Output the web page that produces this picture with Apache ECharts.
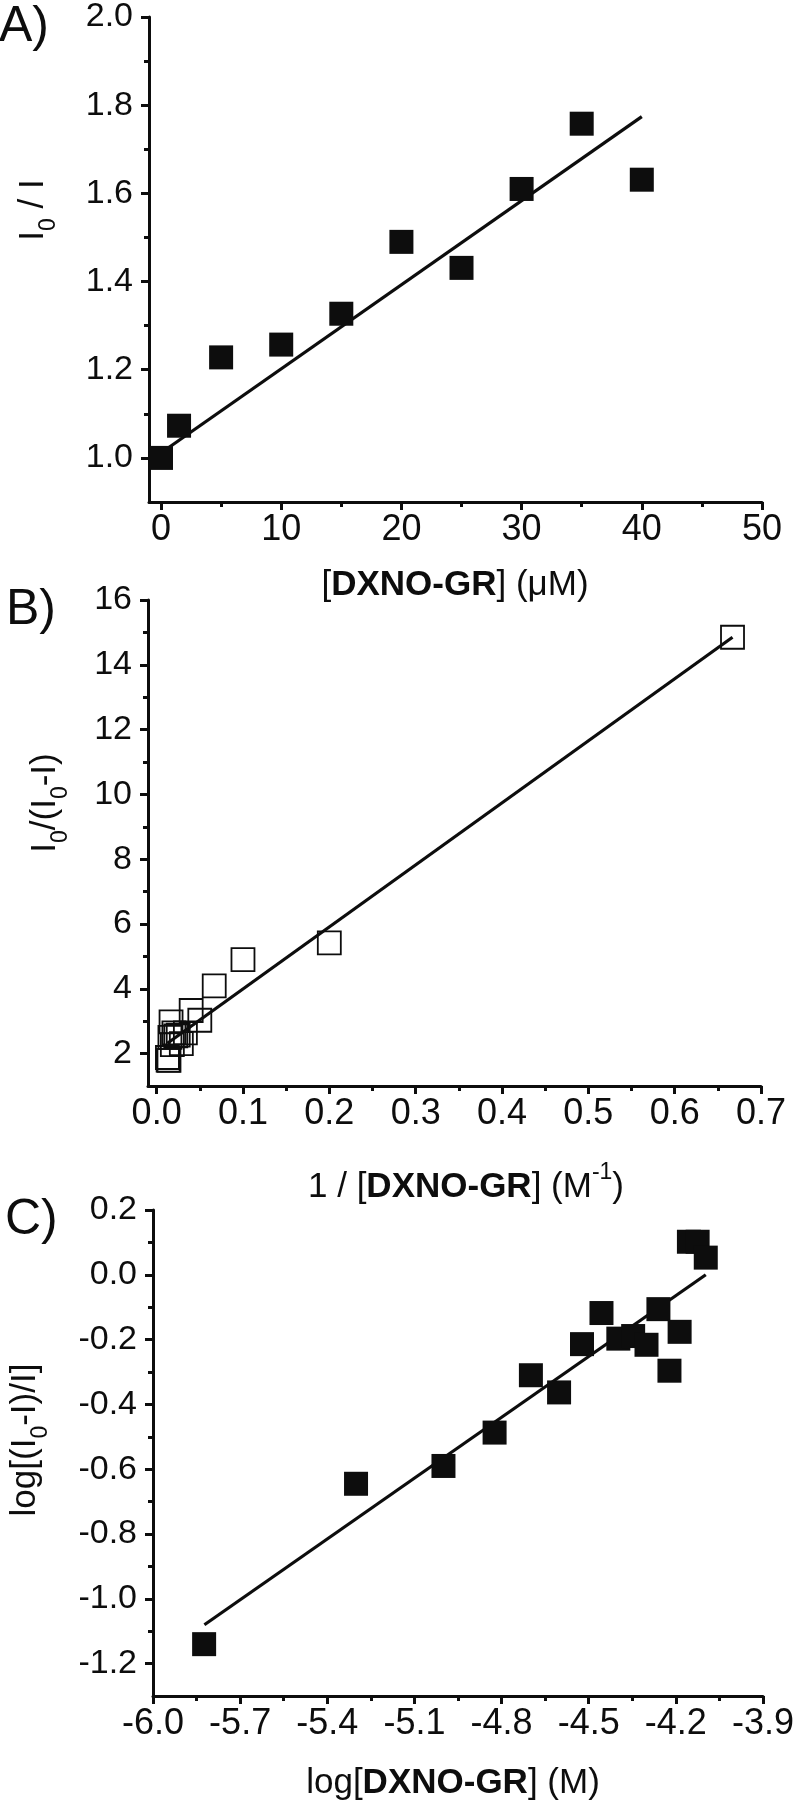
<!DOCTYPE html>
<html><head><meta charset="utf-8">
<script src="https://cdn.jsdelivr.net/npm/echarts@6/dist/echarts.min.js"></script>
<style>html,body{margin:0;padding:0;background:#fff}#c{width:797px;height:1810px}</style>
</head><body><div id="c"></div>
<script>
// ---------- Panel A ----------
const concA  = [0, 1.5, 5, 10, 15, 20, 25, 30, 35, 40];
const ratioA = [1.0, 1.073, 1.228, 1.257, 1.327, 1.490, 1.431, 1.610, 1.758, 1.631];
const fitAx  = [0.2, 40];
const fitAy  = [1.015, 1.774];
const majorAx = [0, 10, 20, 30, 40, 50];
const minorAx = [5, 15, 25, 35, 45];
const majorAy = [1.0, 1.2, 1.4, 1.6, 1.8, 2.0];
const minorAy = [1.1, 1.3, 1.5, 1.7, 1.9];
// ---------- Panel B ----------
const invB   = [0.667, 0.2, 0.1, 0.0667, 0.05, 0.04, 0.0333, 0.0286, 0.025, 0.0222, 0.02, 0.0182, 0.0167, 0.0154, 0.0143, 0.0133, 0.0125];
const ratioB = [14.85, 5.42, 4.90, 4.09, 3.03, 3.33, 2.64, 2.31, 2.57, 2.55, 2.64, 2.28, 2.98, 2.50, 1.79, 1.80, 1.88];
const fitBx  = [0.0125, 0.667];
const fitBy  = [2.32, 14.85];
const majorBx = [0.0, 0.1, 0.2, 0.3, 0.4, 0.5, 0.6, 0.7];
const minorBx = [0.05, 0.15, 0.25, 0.35, 0.45, 0.55, 0.65];
const majorBy = [2, 4, 6, 8, 10, 12, 14, 16];
const minorBy = [3, 5, 7, 9, 11, 13, 15];
// ---------- Panel C ----------
const logC   = [-5.824, -5.301, -5.0, -4.824, -4.699, -4.602, -4.523, -4.456, -4.398, -4.347, -4.301, -4.260, -4.222, -4.187, -4.155, -4.125, -4.097];
const valC   = [-1.14, -0.645, -0.590, -0.487, -0.310, -0.363, -0.214, -0.118, -0.197, -0.189, -0.216, -0.106, -0.296, -0.176, 0.102, 0.102, 0.053];
const fitCx  = [-5.823, -4.097];
const fitCy  = [-1.08, 0.0];
const majorCx = [-6.0, -5.7, -5.4, -5.1, -4.8, -4.5, -4.2, -3.9];
const minorCx = [-5.85, -5.55, -5.25, -4.95, -4.65, -4.35, -4.05];
const majorCy = [-1.2, -1.0, -0.8, -0.6, -0.4, -0.2, 0.0, 0.2];
const minorCy = [-1.1, -0.9, -0.7, -0.5, -0.3, -0.1, 0.1];

const FONT = 'Liberation Sans';
const INK = '#0d0d0d';
const zip = (a, b) => a.map((v, i) => [v, b[i]]);

const grids = [
  {left: 149, top: 15,   width: 613,   height: 487},
  {left: 148, top: 600,  width: 613,   height: 486},
  {left: 153, top: 1210, width: 612.5, height: 486}
];
const ranges = [
  {x: [-1, 50],     y: [0.9, 2.0],  mx: majorAx, nx: minorAx, my: majorAy, ny: minorAy, fx: v => String(v),      fy: v => v.toFixed(1)},
  {x: [-0.01, 0.7], y: [1, 16],     mx: majorBx, nx: minorBx, my: majorBy, ny: minorBy, fx: v => v.toFixed(1), fy: v => String(v)},
  {x: [-6.0, -3.9], y: [-1.3, 0.2], mx: majorCx, nx: minorCx, my: majorCy, ny: minorCy, fx: v => v.toFixed(1), fy: v => v.toFixed(1)}
];

const xAxis = [], yAxis = [];
ranges.forEach((r, g) => {
  xAxis.push({
    type: 'value', gridIndex: g, min: r.x[0], max: r.x[1], position: 'bottom',
    splitLine: {show: false},
    axisLine: {show: true, onZero: false, lineStyle: {color: INK, width: 3}},
    axisTick: {show: true, inside: false, length: 8, lineStyle: {color: INK, width: 3}, customValues: r.mx},
    axisLabel: {show: true, customValues: r.mx, formatter: r.fx, margin: 10, color: INK, fontFamily: FONT, fontSize: 36, showMinLabel: true, showMaxLabel: true}
  });
  xAxis.push({
    type: 'value', gridIndex: g, min: r.x[0], max: r.x[1], position: 'bottom',
    splitLine: {show: false},
    axisLine: {show: false, onZero: false},
    axisTick: {show: true, inside: false, length: 5, lineStyle: {color: INK, width: 3}, customValues: r.nx},
    axisLabel: {show: false}
  });
  yAxis.push({
    type: 'value', gridIndex: g, min: r.y[0], max: r.y[1], position: 'left',
    splitLine: {show: false},
    axisLine: {show: true, onZero: false, lineStyle: {color: INK, width: 3}},
    axisTick: {show: true, inside: false, length: 8, lineStyle: {color: INK, width: 3}, customValues: r.my},
    axisLabel: {show: true, customValues: r.my, formatter: r.fy, margin: 16, color: INK, fontFamily: FONT, fontSize: 34, showMinLabel: true, showMaxLabel: true}
  });
  yAxis.push({
    type: 'value', gridIndex: g, min: r.y[0], max: r.y[1], position: 'left',
    splitLine: {show: false},
    axisLine: {show: false, onZero: false},
    axisTick: {show: true, inside: false, length: 5, lineStyle: {color: INK, width: 3}, customValues: r.ny},
    axisLabel: {show: false}
  });
});

const fitStyle = {color: INK, width: 3.2, opacity: 1};
const series = [
  {type: 'line', xAxisIndex: 0, yAxisIndex: 0, data: zip(fitAx, fitAy), symbol: 'none', lineStyle: fitStyle, clip: false, z: 2},
  {type: 'scatter', xAxisIndex: 0, yAxisIndex: 0, data: zip(concA, ratioA), symbol: 'rect', symbolSize: 24, itemStyle: {color: INK, opacity: 1}, clip: false, z: 3},
  {type: 'line', xAxisIndex: 2, yAxisIndex: 2, data: zip(fitBx, fitBy), symbol: 'none', lineStyle: fitStyle, clip: false, z: 2},
  {type: 'scatter', xAxisIndex: 2, yAxisIndex: 2, data: zip(invB, ratioB), symbol: 'rect', symbolSize: 23, itemStyle: {color: 'rgba(0,0,0,0)', borderColor: INK, borderWidth: 1.8, opacity: 1}, clip: false, z: 3},
  {type: 'line', xAxisIndex: 4, yAxisIndex: 4, data: zip(fitCx, fitCy), symbol: 'none', lineStyle: fitStyle, clip: false, z: 2},
  {type: 'scatter', xAxisIndex: 4, yAxisIndex: 4, data: zip(logC, valC), symbol: 'rect', symbolSize: 24, itemStyle: {color: INK, opacity: 1}, clip: false, z: 3}
];

const T = 35;
const rich = {
  n:  {fontFamily: FONT, fontSize: T, fill: INK, verticalAlign: 'bottom', padding: [0, 0, 9, 0]},
  b:  {fontFamily: FONT, fontSize: T, fontWeight: 'bold', fill: INK, verticalAlign: 'bottom', padding: [0, 0, 9, 0]},
  s:  {fontFamily: FONT, fontSize: 23, fill: INK, verticalAlign: 'bottom', padding: [0, 0, 0, 0]},
  nt: {fontFamily: FONT, fontSize: T, fill: INK, verticalAlign: 'top', padding: [8, 0, 0, 0]},
  bt: {fontFamily: FONT, fontSize: T, fontWeight: 'bold', fill: INK, verticalAlign: 'top', padding: [8, 0, 0, 0]},
  p:  {fontFamily: FONT, fontSize: 23, fill: INK, verticalAlign: 'top', padding: [0, 0, 0, 0]}
};
function label(text, x, y, rot) {
  return {type: 'text', x: x, y: y, rotation: rot || 0, z: 10,
    style: {text: text, rich: rich, align: 'center', verticalAlign: 'middle', textAlign: 'center', textVerticalAlign: 'middle'}};
}
function panel(text, x, y) {
  return {type: 'text', x: x, y: y, z: 10,
    style: {text: text, fill: INK, font: '50px ' + FONT, textAlign: 'left', textVerticalAlign: 'middle'}};
}

const graphic = [
  panel('A)', -1, 27),
  panel('B)', 6, 610),
  panel('C)', 5, 1220),
  label('{n|[}{b|DXNO-GR}{n|] (μM)}', 455, 590),
  label('{nt|1 / [}{bt|DXNO-GR}{nt|] (M}{p|-1}{nt|)}', 466, 1183),
  label('{n|log[}{b|DXNO-GR}{n|] (M)}', 453, 1788),
  label('{n|I}{s|0}{n| / I}', 38, 210, Math.PI / 2),
  label('{n|I}{s|0}{n|/(I}{s|0}{n|-I)}', 50, 803, Math.PI / 2),
  label('{n|log[(I}{s|0}{n|-I)/I]}', 30, 1440, Math.PI / 2)
];

const chart = echarts.init(document.getElementById('c'), null, {renderer: 'canvas'});
chart.setOption({
  animation: false,
  backgroundColor: '#fff',
  grid: grids,
  xAxis: xAxis,
  yAxis: yAxis,
  series: series,
  graphic: graphic
});
</script>
</body></html>
